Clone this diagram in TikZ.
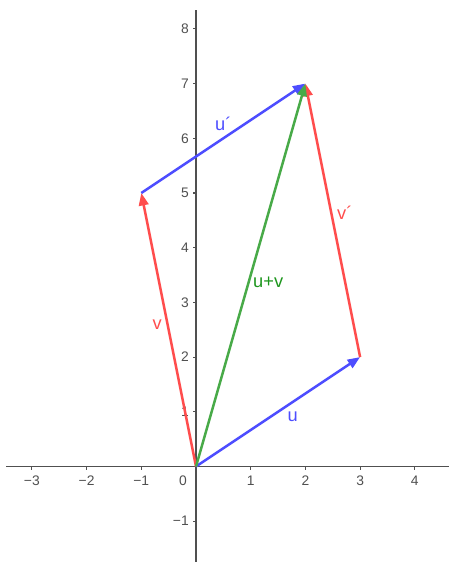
\documentclass[tikz,border=0pt]{standalone}
\usepackage{fontspec}
\setmainfont{Liberation Sans}
\usetikzlibrary{arrows.meta}
\definecolor{vecblue}{RGB}{77,77,255}
\definecolor{vecred}{RGB}{255,77,77}
\definecolor{vecgreen}{RGB}{72,170,72}
\definecolor{labgreen}{RGB}{30,150,30}
\definecolor{axisgray}{RGB}{80,80,80}
\tikzset{
  axisline/.style={axisgray, line width=0.7pt},
  tickmark/.style={axisgray, line width=0.6pt},
  ticklabel/.style={text=axisgray, font=\fontsize{7.2}{8}\selectfont, inner sep=1pt},
  vector/.style={line width=1.3pt, -{Triangle[length=6.5pt, width=5pt]}},
  veclabel/.style={font=\fontsize{9.5}{10}\selectfont, inner sep=0pt}
}

\begin{document}
\begin{tikzpicture}[scale=1]
  \useasboundingbox (-3.583,-1.746) rectangle (4.625,8.528);

  % =======================
  % Axes
  % =======================
  \draw[axisline] (-3.47,0) -- (4.62,0);
  \draw[axisline] (0,-1.75) -- (0,8.35);
  \foreach \x/\t in {-3/−3,-2/−2,-1/−1,1/1,2/2,3/3,4/4} {
    \draw[tickmark] (\x,0) -- (\x,-0.06);
    \node[ticklabel] (x\x) at (\x,-0.26) {\t};
  }
  \node[ticklabel] (x0) at (-0.24,-0.26) {0};
  \foreach \y/\t in {-1/−1,1/1,2/2,3/3,4/4,5/5,6/6,7/7,8/8} {
    \draw[tickmark] (0,\y) -- (-0.06,\y);
    \node[ticklabel, anchor=east] (y\y) at (-0.09,\y) {\t};
  }

  % =======================
  % Points
  % =======================
  \coordinate (O) at (0,0);
  \coordinate (U) at (3,2);
  \coordinate (V) at (-1,5);
  \coordinate (W) at (2,7);

  % =======================
  % Vectors
  % =======================
  \draw[vector, vecblue] (O) -- (U);
  \draw[vector, vecred] (O) -- (V);
  \draw[vector, vecblue] (V) -- (W);
  \draw[vector, vecred] (U) -- (W);
  \draw[vector, vecgreen] (O) -- (W);

  % Labels
  \node[veclabel, text=vecblue] (lu) at (1.77,0.9) {u};
  \node[veclabel, text=vecred] (lv) at (-0.71,2.6) {v};
  \node[veclabel, text=labgreen] (luv) at (1.32,3.37) {u+v};
  \node[veclabel, text=vecred] (lv2) at (2.72,4.64) {v´};
  \node[veclabel, text=vecblue] (lu2) at (0.5,6.26) {u´};

\end{tikzpicture}
\end{document}
